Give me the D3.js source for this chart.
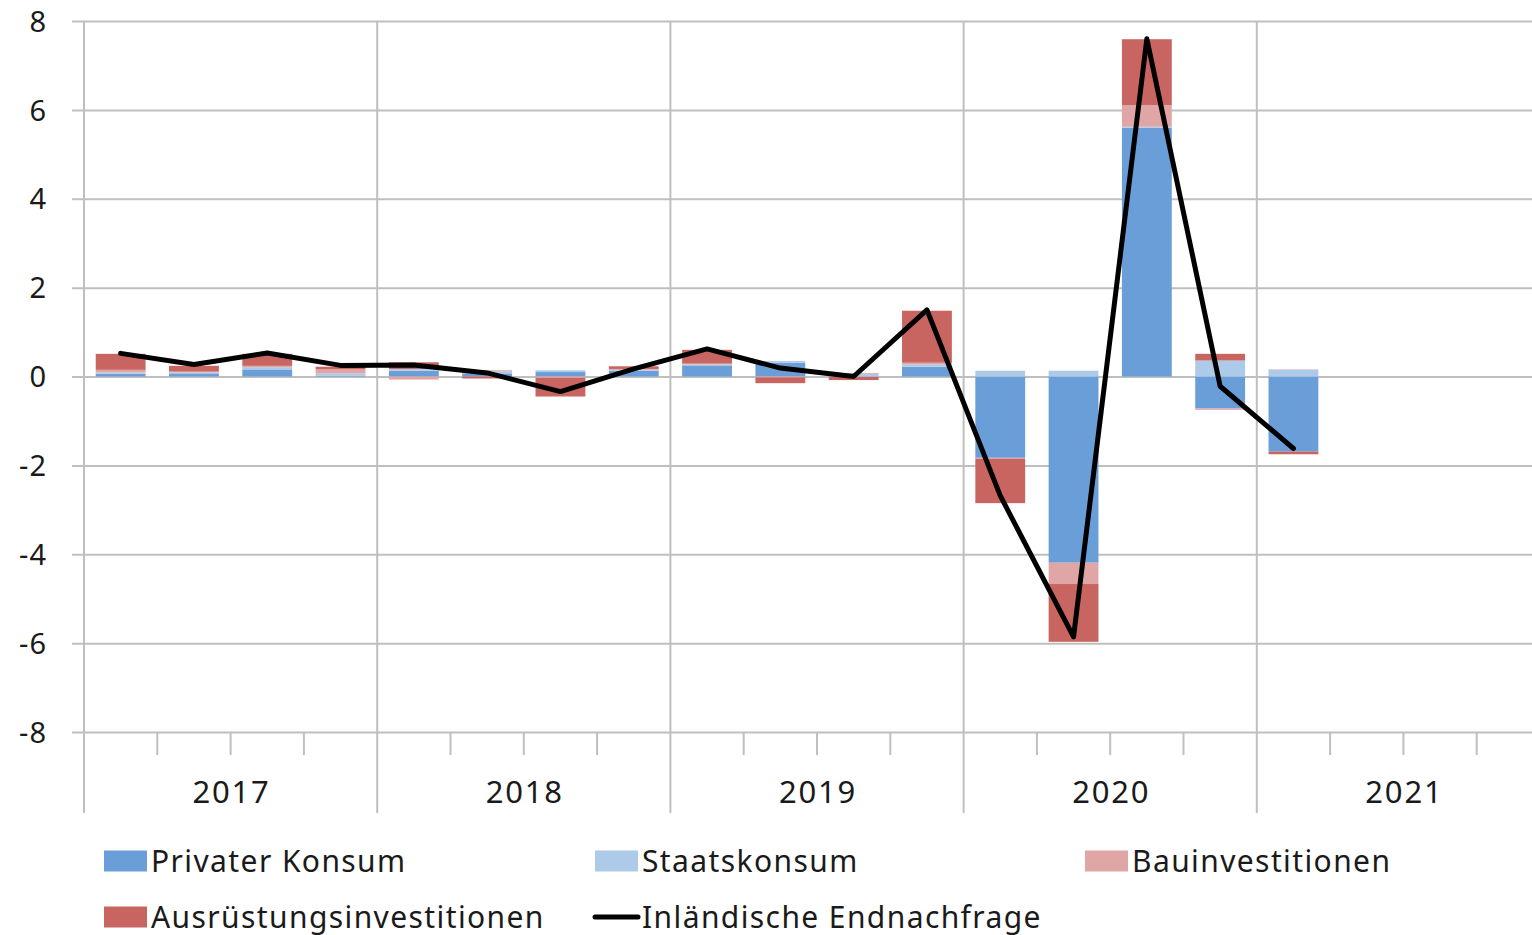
<!DOCTYPE html>
<html>
<head>
<meta charset="utf-8">
<script src="https://cdn.jsdelivr.net/npm/d3@7/dist/d3.min.js"></script>
<style>
  body { margin: 0; background: #fff; }
  svg text { font-family: "Noto Sans", "Open Sans", sans-serif; fill: #1a1a1a; }
</style>
</head>
<body>
<div id="chart"></div>
<script>
// quarters on the axis (2017Q1 .. 2021Q4), data runs until 2021Q1
var years = ["2017", "2018", "2019", "2020", "2021"];
var quarters = [];
years.forEach(function(y){ for (var q = 1; q <= 4; q++) quarters.push(y + "Q" + q); });

// contributions in percentage points
var privaterKonsum = [0.06, 0.07, 0.16, 0.02, 0.13, 0.07, 0.10, 0.13, 0.25, 0.31, -0.01, 0.22, -1.83, -4.19, 5.60, -0.72, -1.69];
var staatskonsum   = [0.03, 0.02, 0.05, 0.05, 0.04, 0.05, 0.04, 0.02, 0.02, 0.04, 0.06, 0.05, 0.13, 0.13, 0.02, 0.36, 0.15];
var bauinvest      = [0.06, 0.02, 0.03, 0.09, -0.07, 0.02, -0.03, 0.02, 0.02, -0.02, 0.02, 0.04, -0.02, -0.48, 0.49, -0.03, 0.01];
var ausruestung    = [0.36, 0.13, 0.27, 0.06, 0.15, -0.045, -0.42, 0.06, 0.31, -0.13, -0.07, 1.17, -1.00, -1.30, 1.48, 0.15, -0.06];
var endnachfrage   = [0.52, 0.27, 0.53, 0.25, 0.26, 0.08, -0.34, 0.17, 0.62, 0.19, 0.0, 1.50, -2.68, -5.86, 7.60, -0.22, -1.62];

var yTicks = [-8, -6, -4, -2, 0, 2, 4, 6, 8];

var seriesKeys = ["Privater Konsum", "Staatskonsum", "Bauinvestitionen", "Ausrüstungsinvestitionen"];
var seriesColors = ["#6a9ed9", "#adcbe8", "#e0a6a6", "#c86561"];
var lineName = "Inländische Endnachfrage";

var W = 1532, H = 935;
var plotLeft = 84, plotRight = 1550, plotTop = 21, plotBottom = 732;

var svg = d3.select("#chart").append("svg")
    .attr("width", W).attr("height", H);

// table for the stack
var rows = endnachfrage.map(function(v, i){
  return {
    q: quarters[i],
    "Privater Konsum": privaterKonsum[i],
    "Staatskonsum": staatskonsum[i],
    "Bauinvestitionen": bauinvest[i],
    "Ausrüstungsinvestitionen": ausruestung[i]
  };
});

var x = d3.scaleBand().domain(quarters).range([plotLeft, plotRight])
    .paddingInner(0.32).paddingOuter(0.16);
var xb = d3.scaleLinear().domain([0, quarters.length]).range([plotLeft, plotRight]); // slot borders
var y = d3.scaleLinear().domain([-8, 8]).range([plotBottom, plotTop]);
var color = d3.scaleOrdinal().domain(seriesKeys).range(seriesColors);

// horizontal grid + y labels (plain hyphen like the original)
var yAxis = d3.axisLeft(y).tickValues(yTicks).tickSize(-(plotRight - 72)).tickPadding(25)
    .tickFormat(function(d){ return String(d); });
var gy = svg.append("g").attr("transform", "translate(72,0)").call(yAxis);
gy.select(".domain").remove();
gy.selectAll(".tick line").attr("stroke", "#bfbfbf").attr("stroke-width", 2);
gy.selectAll(".tick text").style("font-size", "29px").style("letter-spacing", "1px").attr("dy", "0.35em");

// vertical lines: year borders long, quarter ticks short
d3.range(0, quarters.length + 1).forEach(function(i){
  var isYear = i % 4 === 0;
  svg.append("line")
    .attr("x1", xb(i)).attr("x2", xb(i))
    .attr("y1", isYear ? plotTop : plotBottom)
    .attr("y2", isYear ? 813 : 755)
    .attr("stroke", "#bfbfbf").attr("stroke-width", 2);
});

// year labels
svg.selectAll(".year").data(years).enter().append("text")
  .attr("class", "year")
  .attr("x", function(d, i){ return (xb(i * 4) + xb(i * 4 + 4)) / 2 + 1; })
  .attr("y", 803)
  .attr("text-anchor", "middle")
  .style("font-size", "31px")
  .style("letter-spacing", "1.8px")
  .text(function(d){ return d; });

// stacked bars
var stacked = d3.stack().keys(seriesKeys).offset(d3.stackOffsetDiverging)(rows);

svg.append("g").selectAll("g").data(stacked).enter().append("g")
  .attr("fill", function(d){ return color(d.key); })
  .selectAll("rect").data(function(d){ return d; }).enter().append("rect")
    .attr("x", function(d){ return x(d.data.q); })
    .attr("width", x.bandwidth())
    .attr("y", function(d){ return y(Math.max(d[0], d[1])); })
    .attr("height", function(d){ return Math.abs(y(d[0]) - y(d[1])); });

// line
var line = d3.line()
  .x(function(d, i){ return x(quarters[i]) + x.bandwidth() / 2; })
  .y(function(d){ return y(d); });

svg.append("path").datum(endnachfrage)
  .attr("d", line)
  .attr("fill", "none")
  .attr("stroke", "#000")
  .attr("stroke-width", 5)
  .attr("stroke-linecap", "round")
  .attr("stroke-linejoin", "round");

// legend
var legendItems = [
  {name: seriesKeys[0], type: "rect", x: 104, y: 861},
  {name: seriesKeys[1], type: "rect", x: 595, y: 861},
  {name: seriesKeys[2], type: "rect", x: 1085, y: 861},
  {name: seriesKeys[3], type: "rect", x: 104, y: 917},
  {name: lineName, type: "line", x: 595, y: 917}
];

var lg = svg.append("g").selectAll("g").data(legendItems).enter().append("g")
  .attr("transform", function(d){ return "translate(" + d.x + "," + d.y + ")"; });

lg.filter(function(d){ return d.type === "rect"; }).append("rect")
  .attr("x", 0).attr("y", -10.5).attr("width", 43).attr("height", 21)
  .attr("fill", function(d){ return color(d.name); });

lg.filter(function(d){ return d.type === "line"; }).append("line")
  .attr("x1", 0).attr("x2", 43).attr("y1", 0).attr("y2", 0)
  .attr("stroke", "#000").attr("stroke-width", 5).attr("stroke-linecap", "round");

lg.append("text")
  .attr("x", 47).attr("dy", "0.35em")
  .style("font-size", "30px")
  .style("letter-spacing", "1.4px")
  .text(function(d){ return d.name; });
</script>
</body>
</html>
